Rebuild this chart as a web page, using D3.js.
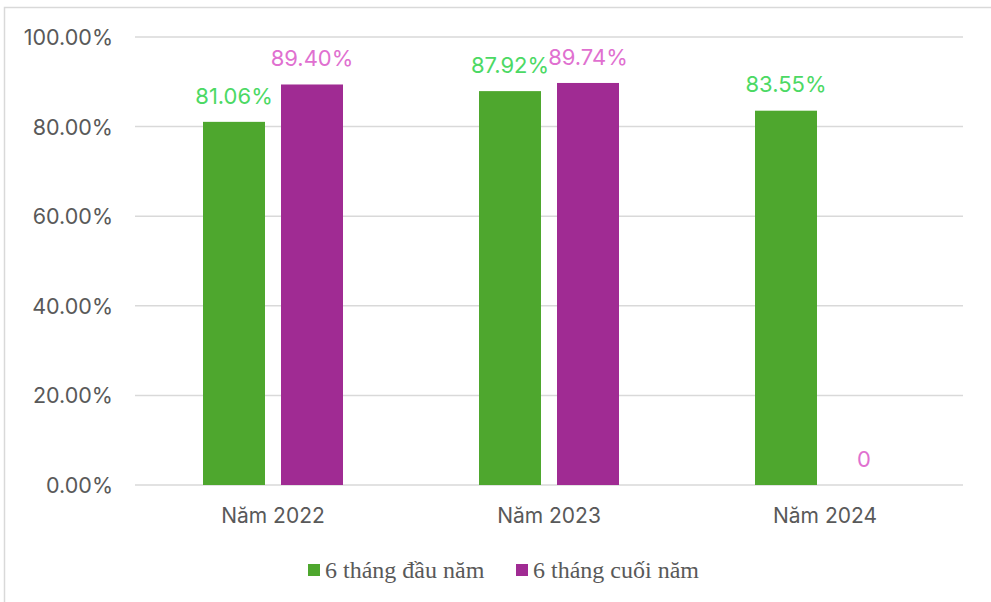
<!DOCTYPE html>
<html>
<head>
<meta charset="utf-8">
<script src="https://cdn.jsdelivr.net/npm/d3@7"></script>
<style>
  html, body { margin: 0; padding: 0; background: #fff; }
  svg { display: block; }
</style>
</head>
<body>
<svg id="chart" width="991" height="602"></svg>
<script>
// Tỷ lệ theo năm, hai nửa năm
const categories = ["Năm 2022", "Năm 2023", "Năm 2024"];
const seriesNames = ["6 tháng đầu năm", "6 tháng cuối năm"];
const firstHalf = [81.06, 87.92, 83.55];
const secondHalf = [89.40, 89.74, 0];
const valueLabels = [["81.06%", "87.92%", "83.55%"], ["89.40%", "89.74%", "0"]];
const yTicks = [0, 20, 40, 60, 80, 100];

const barColors = ["#4ea72e", "#a02b93"];
const labelColors = ["#4cd964", "#e070d0"];

(function () {
  const svg = d3.select("#chart");
  const sans = "Inter, 'Noto Sans', sans-serif";

  // frame
  svg.append("rect")
    .attr("x", 4.5).attr("y", 7.5)
    .attr("width", 1000).attr("height", 700)
    .attr("fill", "none").attr("stroke", "#d9d9d9").attr("stroke-width", 1.5);

  const plotLeft = 135, plotRight = 963, plotTop = 37, plotBottom = 485;

  const x0 = d3.scaleBand().domain(categories).range([plotLeft, plotRight]).paddingInner(0).paddingOuter(0);
  const y = d3.scaleLinear().domain([0, 100]).range([plotBottom, plotTop]);

  // gridlines
  svg.append("g")
    .selectAll("line")
    .data(yTicks)
    .join("line")
    .attr("x1", plotLeft).attr("x2", plotRight)
    .attr("y1", d => y(d)).attr("y2", d => y(d))
    .attr("stroke", "#d9d9d9").attr("stroke-width", 1.5);

  // y axis labels
  const yAxis = d3.axisLeft(y).tickValues(yTicks).tickSize(0).tickPadding(0)
    .tickFormat(d => d3.format(".2f")(d) + "%");
  const gy = svg.append("g").attr("transform", "translate(113,0)").call(yAxis);
  gy.select(".domain").remove();
  gy.selectAll("text")
    .attr("font-family", sans)
    .attr("font-size", 21.5).attr("fill", "#595959").attr("dy", "0.35em");

  // x axis labels
  const xAxis = d3.axisBottom(x0).tickSize(0).tickPadding(0);
  const gx = svg.append("g").attr("transform", `translate(0,${plotBottom + 31})`).call(xAxis);
  gx.select(".domain").remove();
  gx.selectAll("text")
    .attr("font-family", sans)
    .attr("font-size", 21).attr("fill", "#595959").attr("dy", "0.35em");

  // bars
  const barW = 62, gap = 16;
  const series = [firstHalf, secondHalf];
  const offset = (s) => (s === 0 ? -(gap / 2 + barW) : gap / 2);

  series.forEach((vals, s) => {
    const g = svg.append("g");
    g.selectAll("rect")
      .data(vals)
      .join("rect")
      .attr("x", (d, i) => x0(categories[i]) + x0.bandwidth() / 2 + offset(s))
      .attr("y", d => y(d))
      .attr("width", barW)
      .attr("height", d => plotBottom - y(d))
      .attr("fill", barColors[s]);

    g.selectAll("text")
      .data(vals)
      .join("text")
      .attr("x", (d, i) => x0(categories[i]) + x0.bandwidth() / 2 + offset(s) + barW / 2)
      .attr("y", d => y(d) - 26)
      .attr("text-anchor", "middle")
      .attr("dy", "0.35em")
      .attr("font-family", sans)
      .attr("font-size", 22)
      .attr("fill", labelColors[s])
      .text((d, i) => valueLabels[s][i]);
  });

  // legend
  const legendY = 570;
  const legendItems = [
    { name: seriesNames[0], color: barColors[0], x: 308 },
    { name: seriesNames[1], color: barColors[1], x: 516 }
  ];
  const lg = svg.append("g");
  legendItems.forEach(it => {
    lg.append("rect").attr("x", it.x).attr("y", legendY - 6).attr("width", 12).attr("height", 12).attr("fill", it.color);
    lg.append("text").attr("x", it.x + 17).attr("y", legendY).attr("dy", "0.35em")
      .attr("font-family", "'Liberation Serif', 'DejaVu Serif', serif")
      .attr("font-size", 24).attr("fill", "#595959").text(it.name);
  });
})();
</script>
</body>
</html>
